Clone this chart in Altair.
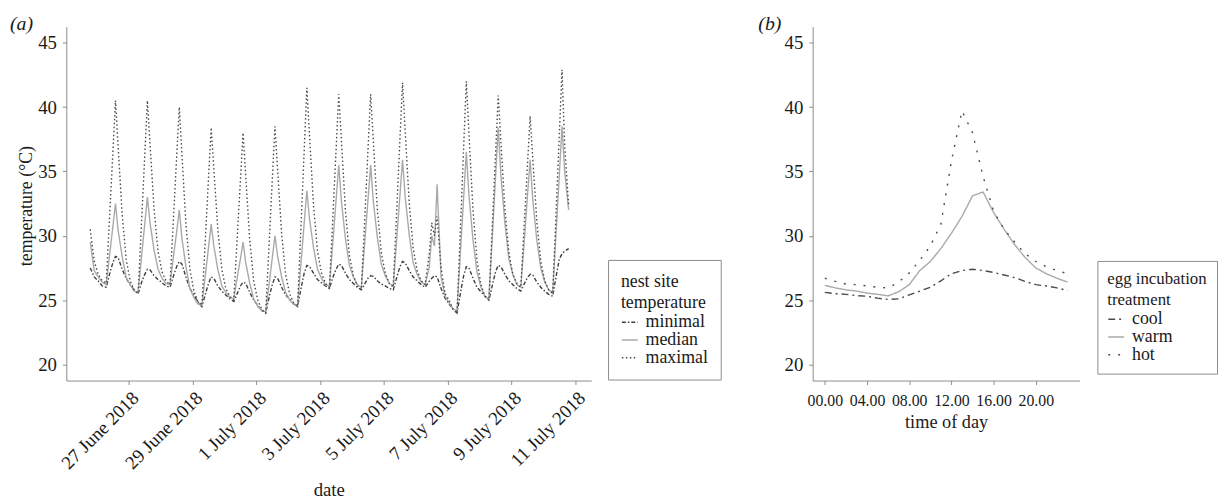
import altair as alt
import pandas as pd

FONT = "Liberation Serif"
N = None

# ---------------- panel (a): nest site temperature ----------------
days_a = ["2018-06-25", "2018-06-26", "2018-06-27", "2018-06-28", "2018-06-29",
          "2018-06-30", "2018-07-01", "2018-07-02", "2018-07-03", "2018-07-04",
          "2018-07-05", "2018-07-06", "2018-07-07", "2018-07-08", "2018-07-09",
          "2018-07-10"]
hours_a = [1, 4, 7, 10, 12, 14, 16, 19, 22]

minimal_a = [
    [N, N, N, N, N, N, N, 27.5, 26.8],
    [26.5, 26.1, 26.0, 27.2, 27.9, 28.4, 28.3, 27.4, 26.7],
    [26.2, 25.8, 25.5, 26.5, 27.0, 27.4, 27.35, 26.9, 26.6],
    [26.35, 26.1, 26.0, 27.0, 27.6, 28.0, 27.8, 26.8, 25.9],
    [25.4, 24.85, 24.5, 25.6, 26.3, 26.8, 26.7, 26.1, 25.7],
    [25.4, 25.1, 24.9, 25.6, 26.1, 26.4, 26.3, 25.6, 25.0],
    [24.6, 24.2, 24.0, 25.4, 26.2, 26.8, 26.7, 26.0, 25.4],
    [25.1, 24.7, 24.5, 26.1, 27.1, 27.7, 27.6, 27.1, 26.6],
    [26.35, 26.1, 25.9, 26.9, 27.4, 27.8, 27.7, 27.1, 26.6],
    [26.3, 26.0, 25.8, 26.35, 26.7, 26.9, 26.85, 26.5, 26.25],
    [26.1, 25.9, 25.8, 26.9, 27.6, 28.0, 27.9, 27.3, 26.8],
    [26.5, 26.2, 26.0, 26.45, 26.7, 26.9, 26.8, 25.9, 25.15],
    [24.7, 24.3, 24.0, 25.8, 26.9, 27.6, 27.5, 26.7, 26.0],
    [25.65, 25.3, 25.0, 26.35, 27.2, 27.7, 27.6, 27.0, 26.5],
    [26.2, 25.9, 25.7, 26.35, 26.75, 27.0, 26.95, 26.4, 26.0],
    [25.7, 25.45, 25.3, 27.1, 28.2, 28.6, 28.8, 29.0, N],
]
median_a = [
    [N, N, N, N, N, N, N, 29.5, 27.3],
    [26.8, 26.4, 26.2, 28.9, 30.7, 32.5, 30.4, 28.4, 26.8],
    [26.2, 25.7, 25.6, 28.8, 30.9, 33.0, 31.0, 28.9, 27.4],
    [26.7, 26.3, 26.2, 28.7, 30.3, 32.0, 29.8, 27.6, 25.9],
    [25.2, 24.7, 24.6, 27.3, 29.1, 30.9, 29.2, 27.4, 26.1],
    [25.6, 25.2, 25.1, 27.0, 28.2, 29.5, 27.9, 26.3, 25.1],
    [24.5, 24.2, 24.1, 26.6, 28.3, 30.0, 28.4, 26.8, 25.6],
    [25.0, 24.7, 24.6, 28.4, 31.0, 33.5, 31.3, 29.1, 27.4],
    [26.7, 26.2, 26.1, 30.1, 32.8, 35.5, 32.7, 29.8, 27.7],
    [26.8, 26.2, 26.0, 30.1, 32.8, 35.5, 32.7, 29.9, 27.8],
    [26.9, 26.3, 26.1, 30.3, 33.1, 35.9, 33.0, 30.1, 27.9],
    [27.0, 26.4, 26.2, 27.5, 30.0, 29.2, 34.0, 26.8, 25.3],
    [24.8, 24.3, 24.2, 29.5, 33.0, 36.5, 33.1, 29.7, 27.2],
    [26.0, 25.3, 25.1, 30.8, 34.6, 38.4, 34.7, 31.0, 28.2],
    [27.0, 26.2, 26.0, 30.2, 33.1, 35.9, 32.8, 29.7, 27.5],
    [26.4, 25.8, 25.6, 31.1, 34.8, 38.5, 35.0, 32.0, N],
]
maximal_a = [
    [N, N, N, N, N, N, N, 30.5, 28.0],
    [27.0, 26.5, 26.3, 32.4, 36.4, 40.5, 36.9, 31.7, 28.2],
    [26.5, 25.8, 25.5, 31.9, 36.2, 40.5, 37.1, 32.1, 28.8],
    [27.2, 26.5, 26.2, 32.1, 36.1, 40.0, 36.3, 30.9, 27.4],
    [25.7, 24.9, 24.6, 30.5, 34.5, 38.4, 35.2, 30.5, 27.4],
    [25.9, 25.3, 25.0, 30.6, 34.3, 38.0, 34.6, 29.7, 26.5],
    [25.0, 24.3, 24.0, 30.2, 34.4, 38.5, 35.1, 30.2, 27.0],
    [25.5, 24.8, 24.5, 31.8, 36.6, 41.5, 37.8, 32.4, 28.8],
    [27.1, 26.3, 26.0, 32.4, 36.7, 41.0, 37.4, 32.0, 28.5],
    [26.9, 26.1, 25.8, 32.3, 36.7, 41.0, 37.4, 32.1, 28.7],
    [27.1, 26.3, 26.0, 32.8, 37.4, 41.9, 38.1, 32.6, 29.0],
    [27.3, 26.5, 26.2, 28.5, 31.0, 30.0, 31.5, 27.5, 25.5],
    [25.0, 24.3, 24.0, 31.7, 36.9, 42.0, 37.9, 32.0, 28.1],
    [26.2, 25.3, 25.0, 31.8, 36.4, 40.9, 37.3, 32.1, 28.7],
    [27.0, 26.3, 26.0, 31.7, 35.5, 39.3, 36.0, 31.2, 28.0],
    [26.5, 25.8, 25.5, 33.0, 37.9, 42.9, 37.0, 32.3, N],
]
series_a = ["minimal", "median", "maximal"]
tick_dates_a = [(6, 27), (6, 29), (7, 1), (7, 3), (7, 5), (7, 7), (7, 9), (7, 11)]

# ---------------- panel (b): egg incubation treatment ----------------
hours_b = [0, 1, 2, 3, 4, 5, 6, 7, 8, 9, 10, 11, 12, 13, 14, 15, 16, 17, 18, 19, 20, 21, 22, 23]
cool_b = [25.6, 25.5, 25.45, 25.35, 25.3, 25.15, 25.05, 25.1, 25.4, 25.7, 26.0, 26.5,
          27.05, 27.3, 27.4, 27.3, 27.15, 26.95, 26.75, 26.45, 26.2, 26.1, 25.95, 25.75]
warm_b = [26.15, 25.95, 25.8, 25.7, 25.55, 25.45, 25.33, 25.65, 26.2, 27.3, 28.0, 29.0,
          30.2, 31.5, 33.1, 33.4, 31.8, 30.5, 29.3, 28.3, 27.5, 27.05, 26.7, 26.4]
hot_b = [26.7, 26.45, 26.25, 26.2, 26.1, 26.0, 25.95, 26.4, 27.1, 28.1, 29.2, 30.9,
         35.8, 39.7, 38.0, 34.6, 31.9, 30.5, 29.5, 28.6, 28.0, 27.6, 27.3, 27.05]
series_b = ["cool", "warm", "hot"]
tick_hours_b = [0, 4, 8, 12, 16, 20]
y_ticks = [20, 25, 30, 35, 40, 45]

# ---------------- tables ----------------
rows = []
for name, table in zip(series_a, [minimal_a, median_a, maximal_a]):
    for day, vals in zip(days_a, table):
        for h, v in zip(hours_a, vals):
            if v is not None:
                rows.append({"time": f"{day}T{h:02d}:00:00", "temp": v, "series": name})
df_a = pd.DataFrame(rows)

rows = []
for name, vals in zip(series_b, [cool_b, warm_b, hot_b]):
    for h, v in zip(hours_b, vals):
        rows.append({"hour": h, "temp": v, "treatment": name})
df_b = pd.DataFrame(rows)

W_A, W_B, H = 531, 270, 358
Y_SCALE = alt.Scale(domain=[18.75, 46.25], nice=False, zero=False)


def legend(title, x, y, pad, title_size):
    return alt.Legend(
        title=title, orient="none", legendX=x, legendY=y,
        symbolType="stroke", symbolSize=256, symbolStrokeWidth=1.5,
        strokeColor="#8c8c8c", padding=pad, rowPadding=0, titlePadding=1,
        labelOffset=7, titleLineHeight=22, labelFontSize=18, titleFontSize=title_size,
        labelFont=FONT, titleFont=FONT, titleFontWeight="normal",
        labelColor="#1a1a1a", titleColor="#1a1a1a", fillColor="white",
    )


def y_axis(title):
    kw = dict(values=y_ticks, labelFontSize=19, labelPadding=6)
    if title:
        kw.update(title=title, titleFontSize=18, titleX=-40, titleY=181,
                  titleAngle=270, titleAlign="center", titleBaseline="middle")
    else:
        kw.update(title=None)
    return alt.Axis(**kw)


leg_a = legend(["nest site", "temperature"], 548, 236, 13, 18)
lines_a = alt.Chart(df_a).mark_line(strokeWidth=1.4).encode(
    x=alt.X("time:T",
            scale=alt.Scale(domain=[alt.DateTime(year=2018, month=6, date=25, hours=1),
                                    alt.DateTime(year=2018, month=7, date=11, hours=12)]),
            axis=alt.Axis(title="date",
                          values=[alt.DateTime(year=2018, month=m, date=d) for m, d in tick_dates_a],
                          format="%-d %B %Y", labelAngle=315, labelAlign="right",
                          labelBaseline="top", labelPadding=4, labelFontSize=19,
                          labelOverlap=False, labelBound=False, labelFlush=False,
                          titleFontSize=19, titleX=W_A / 2, titleY=116,
                          titleBaseline="alphabetic", titleAlign="center")),
    y=alt.Y("temp:Q", scale=Y_SCALE, axis=y_axis("temperature (°C)")),
    color=alt.Color("series:N",
                    scale=alt.Scale(domain=series_a, range=["#3d3d3d", "#a9a9a9", "#4a4a4a"]),
                    legend=leg_a),
    strokeDash=alt.StrokeDash("series:N",
                              scale=alt.Scale(domain=series_a,
                                              range=[[4, 2, 1.5, 2], [1, 0], [1.5, 2.5]]),
                              legend=leg_a),
)
label_a = alt.Chart(pd.DataFrame({"label": ["(a)"]})).mark_text(
    font=FONT, fontSize=20, fontStyle="italic", align="left", baseline="alphabetic",
    color="#1a1a1a").encode(text="label:N", x=alt.value(-57), y=alt.value(3))
chart_a = alt.layer(lines_a, label_a).properties(width=W_A, height=H)

leg_b = legend(["egg incubation", "treatment"], 288, 237, 10, 17)
lines_b = alt.Chart(df_b).mark_line(strokeWidth=1.4).encode(
    x=alt.X("hour:Q", scale=alt.Scale(domain=[-1.15, 24.15], nice=False, zero=False),
            axis=alt.Axis(title="time of day", values=tick_hours_b,
                          labelExpr="(datum.value < 10 ? '0' : '') + datum.value + '.00'",
                          labelFontSize=16, labelPadding=8, labelBaseline="top",
                          labelOverlap=False,
                          titleFontSize=18.5, titleX=W_B / 2, titleY=48,
                          titleBaseline="alphabetic", titleAlign="center")),
    y=alt.Y("temp:Q", scale=Y_SCALE, axis=y_axis(None)),
    color=alt.Color("treatment:N",
                    scale=alt.Scale(domain=series_b, range=["#4a4a4a", "#a9a9a9", "#4a4a4a"]),
                    legend=leg_b),
    strokeDash=alt.StrokeDash("treatment:N",
                              scale=alt.Scale(domain=series_b,
                                              range=[[7, 4, 2, 4], [1, 0], [2, 8]]),
                              legend=leg_b),
)
label_b = alt.Chart(pd.DataFrame({"label": ["(b)"]})).mark_text(
    font=FONT, fontSize=20, fontStyle="italic", align="left", baseline="alphabetic",
    color="#1a1a1a").encode(text="label:N", x=alt.value(-55), y=alt.value(3))
chart_b = alt.layer(lines_b, label_b).properties(width=W_B, height=H)

chart = (
    alt.hconcat(chart_a, chart_b, spacing=37)
    .resolve_scale(color="independent", strokeDash="independent", x="independent")
    .resolve_legend(color="independent", strokeDash="independent")
    .properties(padding={"left": 2, "top": 3, "right": 0, "bottom": 0}, background="white")
    .configure_view(stroke=None)
    .configure_axis(grid=False, domainColor="#8c8c8c", tickColor="#8c8c8c", tickSize=4,
                    labelFont=FONT, titleFont=FONT, labelColor="#1a1a1a",
                    titleColor="#1a1a1a", titleFontWeight="normal")
)
chart.save("out.html", embed_options={"renderer": "svg", "actions": False})
